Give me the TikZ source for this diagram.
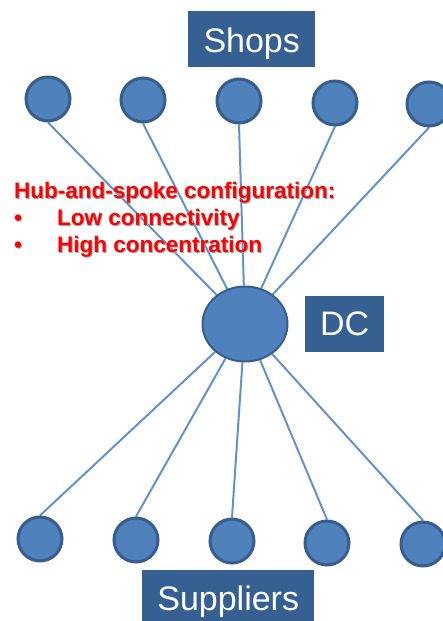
\documentclass[tikz,border=0pt]{standalone}
\usepackage{fontspec}
\setmainfont{Liberation Sans}
\usetikzlibrary{shapes.geometric}
\definecolor{nodefill}{HTML}{4F81BD}
\definecolor{nodeline}{HTML}{385D8A}
\definecolor{boxfill}{HTML}{376092}
\definecolor{spoke}{HTML}{6392CB}
\pgfdeclarelayer{bg}
\pgfsetlayers{bg,main}
\begin{document}
\begin{tikzpicture}[x=1pt,y=-1pt,
  site/.style={circle,fill=nodefill,draw=nodeline,line width=3pt,minimum size=44pt,inner sep=0pt},
  hub/.style={ellipse,fill=nodefill,draw=nodeline,line width=2pt,minimum width=85pt,minimum height=75pt,inner sep=0pt},
  tag/.style={fill=boxfill,text=white,font=\fontsize{34}{40}\selectfont,inner sep=0pt,anchor=north west},
  link/.style={draw=spoke,line width=2pt},
  notetext/.style={text=red,font=\bfseries\fontsize{22.5}{27}\selectfont,inner sep=0pt,anchor=base west},
  noteshadow/.style={notetext,text=black!35}]
\useasboundingbox (0,0) rectangle (443,621);
% shops
\node[site] (s1) at (48,99) {};
\node[site] (s2) at (143,100) {};
\node[site] (s3) at (239,101) {};
\node[site] (s4) at (335,103) {};
\node[site] (s5) at (429,104) {};
% hub
\node[hub] (dc) at (245,324) {};
% suppliers
\node[site] (p1) at (40,539) {};
\node[site] (p2) at (136,540) {};
\node[site] (p3) at (232,541) {};
\node[site] (p4) at (327,543) {};
\node[site] (p5) at (423,544) {};
% boxes
\node[tag,minimum width=127pt,text height=41pt,text depth=15pt] (shops) at (188,11) {Shops};
\node[tag,minimum width=79pt,text height=39pt,text depth=17pt] (dcbox) at (305,296) {DC};
\node[tag,minimum width=172pt,text height=40pt,text depth=11pt] (sup) at (142,570) {Suppliers};
% spokes
\begin{pgfonlayer}{bg}
\foreach \i in {1,...,5}{
  \draw[link] (s\i.south) -- (dc);
  \draw[link] (dc) -- (p\i.north);
}
\end{pgfonlayer}
% note (shadow, then text)
\node[noteshadow] (titlesh) at (15,199) {Hub-and-spoke configuration:};
\node[noteshadow] (b1sh) at (15,226) {•};
\node[noteshadow] (t1sh) at (58,226) {Low connectivity};
\node[noteshadow] (b2sh) at (15,253) {•};
\node[noteshadow] (t2sh) at (58,253) {High concentration};
\node[notetext] (title) at (14,198) {Hub-and-spoke configuration:};
\node[notetext] (b1) at (14,225) {•};
\node[notetext] (t1) at (57,225) {Low connectivity};
\node[notetext] (b2) at (14,252) {•};
\node[notetext] (t2) at (57,252) {High concentration};
\end{tikzpicture}
\end{document}
